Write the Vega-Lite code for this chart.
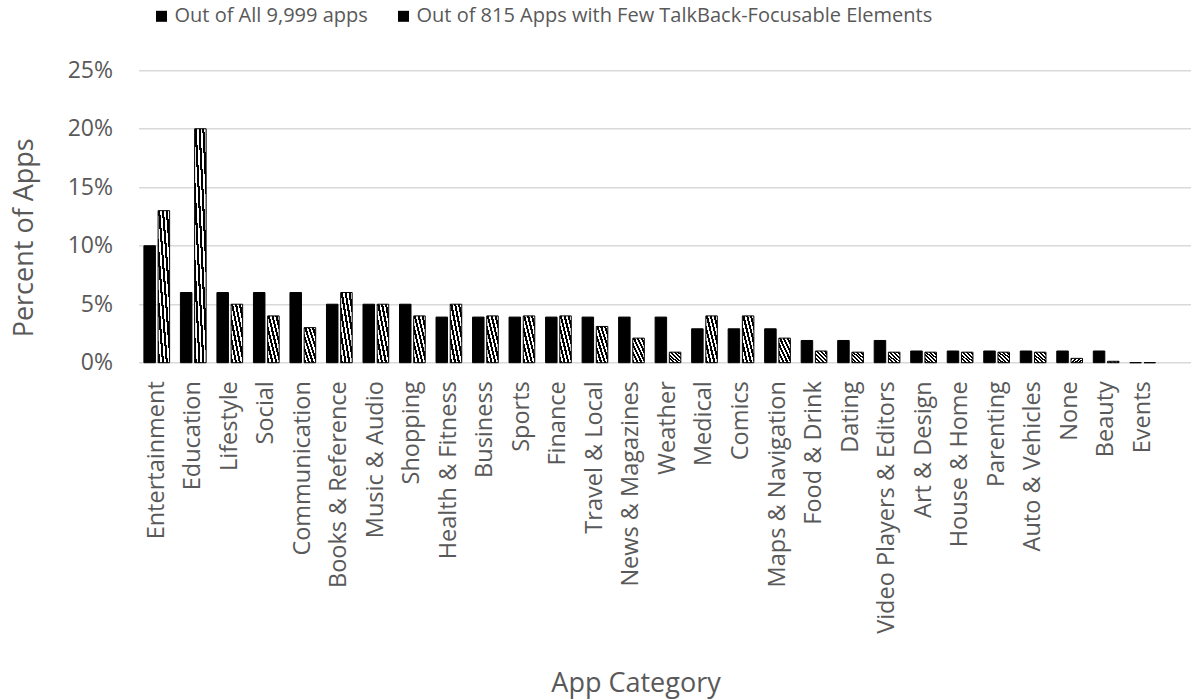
{
  "$schema": "https://vega.github.io/schema/vega-lite/v6.json",
  "width": 1052,
  "height": 292.4,
  "autosize": "none",
  "padding": {"left": 138.5, "top": 70.3, "right": 1.5, "bottom": 337.3},
  "background": "white",
  "config": {"font": "Open Sans", "view": {"stroke": null}},
  "data": {
    "values": [
      {"category": "Entertainment", "series": "Out of All 9,999 apps", "pct": 10.0},
      {"category": "Entertainment", "series": "Out of 815 Apps with Few TalkBack-Focusable Elements", "pct": 13.0},
      {"category": "Education", "series": "Out of All 9,999 apps", "pct": 6.0},
      {"category": "Education", "series": "Out of 815 Apps with Few TalkBack-Focusable Elements", "pct": 20.0},
      {"category": "Lifestyle", "series": "Out of All 9,999 apps", "pct": 6.0},
      {"category": "Lifestyle", "series": "Out of 815 Apps with Few TalkBack-Focusable Elements", "pct": 5.0},
      {"category": "Social", "series": "Out of All 9,999 apps", "pct": 6.0},
      {"category": "Social", "series": "Out of 815 Apps with Few TalkBack-Focusable Elements", "pct": 4.0},
      {"category": "Communication", "series": "Out of All 9,999 apps", "pct": 6.0},
      {"category": "Communication", "series": "Out of 815 Apps with Few TalkBack-Focusable Elements", "pct": 3.0},
      {"category": "Books & Reference", "series": "Out of All 9,999 apps", "pct": 5.0},
      {"category": "Books & Reference", "series": "Out of 815 Apps with Few TalkBack-Focusable Elements", "pct": 6.0},
      {"category": "Music & Audio", "series": "Out of All 9,999 apps", "pct": 5.0},
      {"category": "Music & Audio", "series": "Out of 815 Apps with Few TalkBack-Focusable Elements", "pct": 5.0},
      {"category": "Shopping", "series": "Out of All 9,999 apps", "pct": 5.0},
      {"category": "Shopping", "series": "Out of 815 Apps with Few TalkBack-Focusable Elements", "pct": 4.0},
      {"category": "Health & Fitness", "series": "Out of All 9,999 apps", "pct": 3.9},
      {"category": "Health & Fitness", "series": "Out of 815 Apps with Few TalkBack-Focusable Elements", "pct": 5.0},
      {"category": "Business", "series": "Out of All 9,999 apps", "pct": 3.9},
      {"category": "Business", "series": "Out of 815 Apps with Few TalkBack-Focusable Elements", "pct": 4.0},
      {"category": "Sports", "series": "Out of All 9,999 apps", "pct": 3.9},
      {"category": "Sports", "series": "Out of 815 Apps with Few TalkBack-Focusable Elements", "pct": 4.0},
      {"category": "Finance", "series": "Out of All 9,999 apps", "pct": 3.9},
      {"category": "Finance", "series": "Out of 815 Apps with Few TalkBack-Focusable Elements", "pct": 4.0},
      {"category": "Travel & Local", "series": "Out of All 9,999 apps", "pct": 3.9},
      {"category": "Travel & Local", "series": "Out of 815 Apps with Few TalkBack-Focusable Elements", "pct": 3.1},
      {"category": "News & Magazines", "series": "Out of All 9,999 apps", "pct": 3.9},
      {"category": "News & Magazines", "series": "Out of 815 Apps with Few TalkBack-Focusable Elements", "pct": 2.1},
      {"category": "Weather", "series": "Out of All 9,999 apps", "pct": 3.9},
      {"category": "Weather", "series": "Out of 815 Apps with Few TalkBack-Focusable Elements", "pct": 0.9},
      {"category": "Medical", "series": "Out of All 9,999 apps", "pct": 2.9},
      {"category": "Medical", "series": "Out of 815 Apps with Few TalkBack-Focusable Elements", "pct": 4.0},
      {"category": "Comics", "series": "Out of All 9,999 apps", "pct": 2.9},
      {"category": "Comics", "series": "Out of 815 Apps with Few TalkBack-Focusable Elements", "pct": 4.0},
      {"category": "Maps & Navigation", "series": "Out of All 9,999 apps", "pct": 2.9},
      {"category": "Maps & Navigation", "series": "Out of 815 Apps with Few TalkBack-Focusable Elements", "pct": 2.1},
      {"category": "Food & Drink", "series": "Out of All 9,999 apps", "pct": 1.9},
      {"category": "Food & Drink", "series": "Out of 815 Apps with Few TalkBack-Focusable Elements", "pct": 1.0},
      {"category": "Dating", "series": "Out of All 9,999 apps", "pct": 1.9},
      {"category": "Dating", "series": "Out of 815 Apps with Few TalkBack-Focusable Elements", "pct": 0.9},
      {"category": "Video Players & Editors", "series": "Out of All 9,999 apps", "pct": 1.9},
      {"category": "Video Players & Editors", "series": "Out of 815 Apps with Few TalkBack-Focusable Elements", "pct": 0.9},
      {"category": "Art & Design", "series": "Out of All 9,999 apps", "pct": 1.0},
      {"category": "Art & Design", "series": "Out of 815 Apps with Few TalkBack-Focusable Elements", "pct": 0.9},
      {"category": "House & Home", "series": "Out of All 9,999 apps", "pct": 1.0},
      {"category": "House & Home", "series": "Out of 815 Apps with Few TalkBack-Focusable Elements", "pct": 0.9},
      {"category": "Parenting", "series": "Out of All 9,999 apps", "pct": 1.0},
      {"category": "Parenting", "series": "Out of 815 Apps with Few TalkBack-Focusable Elements", "pct": 0.9},
      {"category": "Auto & Vehicles", "series": "Out of All 9,999 apps", "pct": 1.0},
      {"category": "Auto & Vehicles", "series": "Out of 815 Apps with Few TalkBack-Focusable Elements", "pct": 0.9},
      {"category": "None", "series": "Out of All 9,999 apps", "pct": 1.0},
      {"category": "None", "series": "Out of 815 Apps with Few TalkBack-Focusable Elements", "pct": 0.37},
      {"category": "Beauty", "series": "Out of All 9,999 apps", "pct": 1.0},
      {"category": "Beauty", "series": "Out of 815 Apps with Few TalkBack-Focusable Elements", "pct": 0.12},
      {"category": "Events", "series": "Out of All 9,999 apps", "pct": 0.0},
      {"category": "Events", "series": "Out of 815 Apps with Few TalkBack-Focusable Elements", "pct": 0.0}
    ]
  },
  "mark": {"type": "bar", "stroke": "#000000", "strokeWidth": 1},
  "encoding": {
    "x": {
      "field": "category",
      "type": "nominal",
      "sort": null,
      "scale": {"paddingInner": 0, "paddingOuter": 0.405, "align": 0},
      "axis": {
        "title": "App Category",
        "labelAngle": -90,
        "labelFontSize": 23.5,
        "labelColor": "#595959",
        "labelPadding": 18,
        "labelLimit": 400,
        "labelOverlap": false,
        "ticks": false,
        "domain": false,
        "titleFontSize": 27,
        "titleColor": "#595959",
        "titleFontWeight": "normal",
        "titleX": 497,
        "titleY": 321,
        "titleAlign": "center",
        "titleBaseline": "middle"
      }
    },
    "xOffset": {
      "field": "series",
      "sort": null,
      "scale": {"paddingInner": 0.19, "paddingOuter": 0.38}
    },
    "y": {
      "field": "pct",
      "type": "quantitative",
      "scale": {"domain": [0, 25]},
      "axis": {
        "values": [0, 5, 10, 15, 20, 25],
        "labelExpr": "datum.value + '%'",
        "title": "Percent of Apps",
        "grid": true,
        "gridColor": "#d9d9d9",
        "gridWidth": 1.5,
        "domain": false,
        "ticks": false,
        "labelFontSize": 23,
        "labelColor": "#595959",
        "labelPadding": 26,
        "titleFontSize": 27,
        "titleColor": "#595959",
        "titleFontWeight": "normal",
        "titleAngle": -90,
        "titleX": -114,
        "titleY": 167,
        "titleAlign": "center",
        "titleBaseline": "middle"
      }
    },
    "fill": {
      "condition": {
        "test": "datum.series === 'Out of 815 Apps with Few TalkBack-Focusable Elements'",
        "value": {
          "gradient": "linear",
          "x1": 0, "y1": 1, "x2": 1, "y2": 0,
          "stops": [
            {"offset": 0.0, "color": "#000000"},
            {"offset": 0.09, "color": "#000000"},
            {"offset": 0.09, "color": "#ffffff"},
            {"offset": 0.167, "color": "#ffffff"},
            {"offset": 0.167, "color": "#000000"},
            {"offset": 0.257, "color": "#000000"},
            {"offset": 0.257, "color": "#ffffff"},
            {"offset": 0.333, "color": "#ffffff"},
            {"offset": 0.333, "color": "#000000"},
            {"offset": 0.423, "color": "#000000"},
            {"offset": 0.423, "color": "#ffffff"},
            {"offset": 0.5, "color": "#ffffff"},
            {"offset": 0.5, "color": "#000000"},
            {"offset": 0.59, "color": "#000000"},
            {"offset": 0.59, "color": "#ffffff"},
            {"offset": 0.667, "color": "#ffffff"},
            {"offset": 0.667, "color": "#000000"},
            {"offset": 0.757, "color": "#000000"},
            {"offset": 0.757, "color": "#ffffff"},
            {"offset": 0.833, "color": "#ffffff"},
            {"offset": 0.833, "color": "#000000"},
            {"offset": 0.923, "color": "#000000"},
            {"offset": 0.923, "color": "#ffffff"},
            {"offset": 1.0, "color": "#ffffff"}
          ]
        }
      },
      "value": "#000000"
    },
    "opacity": {
      "field": "series",
      "type": "ordinal",
      "sort": null,
      "scale": {
        "domain": ["Out of All 9,999 apps", "Out of 815 Apps with Few TalkBack-Focusable Elements"],
        "range": [1, 1]
      },
      "legend": {
        "orient": "none",
        "legendX": 13,
        "legendY": -64,
        "direction": "horizontal",
        "title": null,
        "labelFontSize": 20,
        "labelColor": "#595959",
        "labelLimit": 900,
        "labelOffset": 3,
        "symbolType": "square",
        "symbolSize": 121,
        "symbolStrokeColor": "#000000",
        "symbolStrokeWidth": 1,
        "columnPadding": 25,
        "encode": {
          "symbols": {
            "update": {
              "fill": [
                {
                  "test": "datum.value === 'Out of 815 Apps with Few TalkBack-Focusable Elements'",
                  "value": {
                    "gradient": "linear",
                    "x1": 0, "y1": 1, "x2": 1, "y2": 0,
                    "stops": [
                      {"offset": 0.0, "color": "#000000"},
                      {"offset": 0.14, "color": "#000000"},
                      {"offset": 0.14, "color": "#ffffff"},
                      {"offset": 0.26, "color": "#ffffff"},
                      {"offset": 0.26, "color": "#000000"},
                      {"offset": 0.44, "color": "#000000"},
                      {"offset": 0.44, "color": "#ffffff"},
                      {"offset": 0.56, "color": "#ffffff"},
                      {"offset": 0.56, "color": "#000000"},
                      {"offset": 0.74, "color": "#000000"},
                      {"offset": 0.74, "color": "#ffffff"},
                      {"offset": 0.86, "color": "#ffffff"},
                      {"offset": 0.86, "color": "#000000"},
                      {"offset": 1.0, "color": "#000000"}
                    ]
                  }
                },
                {"value": "#000000"}
              ],
              "stroke": {"value": "#000000"},
              "opacity": {"value": 1}
            }
          }
        }
      }
    }
  }
}
